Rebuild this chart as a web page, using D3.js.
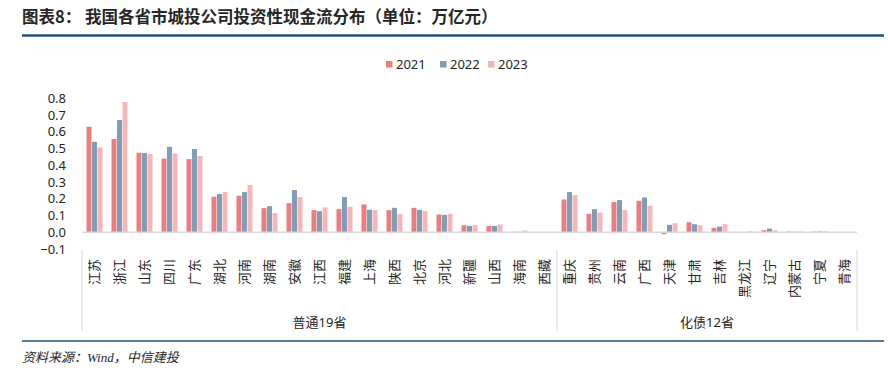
<!DOCTYPE html>
<html>
<head>
<meta charset="utf-8">
<script src="https://cdn.jsdelivr.net/npm/d3@7"></script>
<style>
  body { margin: 0; background: #fff; }
  svg text { font-family: "Noto Sans", "Noto Sans CJK SC", sans-serif; fill: #262626; }
</style>
</head>
<body>
<svg width="888" height="377"></svg>
<script>
var provinces = ["江苏","浙江","山东","四川","广东","湖北","河南","湖南","安徽","江西","福建","上海","陕西","北京","河北","新疆","山西","海南","西藏",
                 "重庆","贵州","云南","广西","天津","甘肃","吉林","黑龙江","辽宁","内蒙古","宁夏","青海"]
var years = ["2021","2022","2023"]
var v2021 = [0.63,0.557,0.475,0.44,0.437,0.212,0.218,0.144,0.174,0.132,0.138,0.166,0.132,0.146,0.106,0.042,0.038,0.002,0,
             0.196,0.11,0.18,0.188,-0.012,0.06,0.026,0,0.012,0.004,0.004,0]
var v2022 = [0.54,0.67,0.473,0.51,0.497,0.228,0.24,0.156,0.252,0.126,0.21,0.134,0.146,0.134,0.104,0.038,0.038,0.003,0,
             0.24,0.138,0.192,0.208,0.044,0.048,0.034,0.001,0.022,0.003,0.005,0.001]
var v2023 = [0.507,0.778,0.467,0.47,0.455,0.24,0.282,0.114,0.21,0.148,0.152,0.132,0.11,0.126,0.11,0.044,0.046,0.01,0,
             0.222,0.118,0.132,0.158,0.054,0.042,0.048,0.006,0.012,0.005,0.005,0.001]
var groupNames = ["普通19省","化债12省"]
var groupSizes = [19,12]
var yTicks = [-0.1,0,0.1,0.2,0.3,0.4,0.5,0.6,0.7,0.8]

var colors = ["#ec7d7e","#7f9db6","#f5b6b8"]
var series = [v2021, v2022, v2023]

var svg = d3.select("svg")

// title + rules
svg.append("text").attr("x", 22).attr("y", 23)
  .style("font-family", "'Noto Sans CJK SC', sans-serif").style("font-weight", "bold")
  .style("font-size", "16.5px").attr("fill", "#000")
  .text("图表8：  我国各省市城投公司投资性现金流分布（单位：万亿元）")
svg.append("line").attr("x1", 22).attr("x2", 884).attr("y1", 35.5).attr("y2", 35.5)
  .attr("stroke", "#1f4f7d").attr("stroke-width", 2.5)
svg.append("line").attr("x1", 22).attr("x2", 884).attr("y1", 341).attr("y2", 341)
  .attr("stroke", "#1f4f7d").attr("stroke-width", 1.5)
svg.append("text").attr("x", 22).attr("y", 362)
  .style("font-style", "italic").style("font-size", "13px")
  .style("font-family", "'Liberation Serif', 'Noto Sans CJK SC', serif")
  .text("资料来源：Wind，中信建投")

// scales
var x0 = d3.scaleBand().domain(provinces).range([82, 857])
var x1 = d3.scaleBand().domain(years).range([4.5, 20.5]).paddingInner(0.1)
var y = d3.scaleLinear().domain([-0.1, 0.8]).range([249, 98.3])

// y labels
svg.append("g").selectAll("text").data(yTicks).enter().append("text")
  .attr("x", 66).attr("y", d => y(d)).attr("dy", "0.35em")
  .attr("text-anchor", "end").style("font-size", "13px")
  .text(d => d3.format(".1f")(d))

// bars
var rows = provinces.map((p, i) => ({p: p, vals: series.map((s, k) => ({year: years[k], v: s[i], c: colors[k]}))}))
var cat = svg.append("g").selectAll("g").data(rows).enter().append("g")
  .attr("transform", d => "translate(" + x0(d.p) + ",0)")
cat.selectAll("rect").data(d => d.vals).enter().append("rect")
  .attr("x", d => x1(d.year)).attr("width", x1.bandwidth())
  .attr("y", d => y(Math.max(0, d.v)))
  .attr("height", d => Math.abs(y(d.v) - y(0)))
  .attr("fill", d => d.c)

// zero line
svg.append("line").attr("x1", 82).attr("x2", 857).attr("y1", y(0)).attr("y2", y(0))
  .attr("stroke", "#d9d9d9").attr("stroke-width", 1.5)

// category labels (rotated)
svg.append("g").selectAll("text").data(provinces).enter().append("text")
  .attr("transform", d => "translate(" + (x0(d) + x0.bandwidth() / 2) + ",259) rotate(-90)")
  .attr("text-anchor", "end").attr("dy", "0.35em")
  .style("font-family", "'Noto Sans CJK SC', sans-serif").style("font-size", "13px")
  .attr("fill", "#404040")
  .text(d => d)

// group dividers + names
var bounds = [0]
groupSizes.forEach((n, i) => bounds.push(bounds[i] + n))
var edgeX = i => i < provinces.length ? x0(provinces[i]) : x0.range()[1]
bounds.forEach(b => {
  svg.append("line").attr("x1", edgeX(b)).attr("x2", edgeX(b)).attr("y1", 250).attr("y2", 331)
    .attr("stroke", "#d9d9d9").attr("stroke-width", 1)
})
groupNames.forEach((g, i) => {
  svg.append("text").attr("x", (edgeX(bounds[i]) + edgeX(bounds[i + 1])) / 2).attr("y", 327)
    .attr("text-anchor", "middle").style("font-size", "13px")
    .style("font-family", "'Noto Sans', 'Noto Sans CJK SC', sans-serif")
    .text(g)
})

// legend
var legX = [386, 440, 488]
var leg = svg.append("g").selectAll("g").data(years).enter().append("g")
  .attr("transform", (d, i) => "translate(" + legX[i] + ",64)")
leg.append("rect").attr("x", 0).attr("y", -3).attr("width", 6.5).attr("height", 6.5)
  .attr("fill", (d, i) => colors[i])
leg.append("text").attr("x", 10).attr("dy", "0.35em").style("font-size", "13px").text(d => d)
</script>
</body>
</html>
